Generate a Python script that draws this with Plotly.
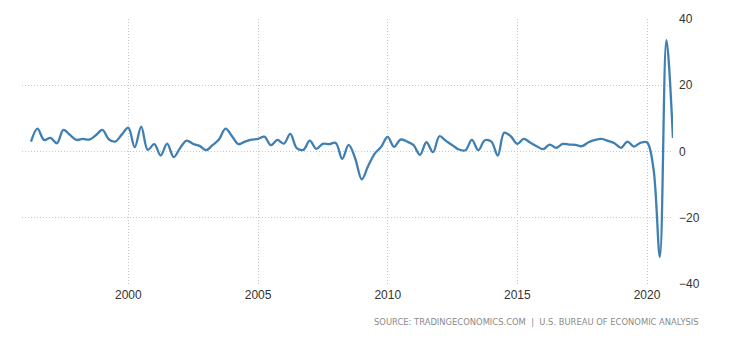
import pandas as pd
import plotly.graph_objects as go

# US real GDP growth, quarter on quarter, seasonally adjusted annualized rate (%)
quarters = pd.period_range("1996Q1", "2020Q4", freq="Q")

growth_1996_2000 = [3.0, 6.9, 3.5, 4.1,
                    2.5, 6.5, 5.0, 3.5,
                    3.8, 3.6, 4.9, 6.5,
                    3.7, 3.0, 5.1, 7.2,
                    1.3, 7.5, 0.5, 2.2]
growth_2001_2005 = [-1.2, 2.4, -1.7, 1.1,
                    3.3, 2.3, 1.7, 0.4,
                    1.9, 3.6, 6.9, 4.6,
                    2.2, 3.0, 3.6, 3.8,
                    4.5, 1.9, 3.5, 2.4]
growth_2006_2010 = [5.3, 1.0, 0.5, 3.3,
                    0.8, 2.3, 2.2, 2.6,
                    -2.2, 2.0, -2.1, -8.4,
                    -4.4, -0.7, 1.4, 4.4,
                    1.4, 3.6, 3.0, 1.9]
growth_2011_2015 = [-1.0, 2.8, -0.2, 4.6,
                    3.2, 1.9, 0.6, 0.4,
                    3.5, 0.4, 3.4, 3.0,
                    -1.2, 5.7, 4.6, 2.3,
                    3.8, 2.7, 1.6, 0.7]
growth_2016_2020 = [2.1, 1.1, 2.3, 2.1,
                    2.0, 1.6, 2.8, 3.5,
                    3.8, 3.2, 2.5, 1.1,
                    3.0, 1.5, 2.6, 2.8,
                    -5.0, -31.8, 33.6, 4.1]

growth = (growth_1996_2000 + growth_2001_2005 + growth_2006_2010
          + growth_2011_2015 + growth_2016_2020)
dates = quarters.end_time.normalize()

year_ticks = ["2000-01-01", "2005-01-01", "2010-01-01", "2015-01-01", "2020-01-01"]
year_labels = ["2000", "2005", "2010", "2015", "2020"]
y_ticks = [-40, -20, 0, 20, 40]

source_text = "SOURCE: TRADINGECONOMICS.COM  |  U.S. BUREAU OF ECONOMIC ANALYSIS"

fig = go.Figure(
    go.Scatter(
        x=dates,
        y=growth,
        mode="lines",
        line=dict(color="#3f7fb2", width=2.3, shape="spline", smoothing=1.0),
        hoverinfo="x+y",
    )
)

grid = dict(showgrid=True, gridcolor="#c8c8c8", gridwidth=1, griddash="1px,2px",
            zeroline=False, showline=False, ticks="",
            tickfont=dict(family="Liberation Sans, Arial, sans-serif", size=12, color="#333333"))

fig.update_layout(
    width=730,
    height=340,
    margin=dict(l=22, r=57, t=19, b=56),
    paper_bgcolor="white",
    plot_bgcolor="white",
    showlegend=False,
    xaxis=dict(range=["1995-11-25", "2021-01-01"], tickvals=year_ticks,
               ticktext=year_labels, ticklabelstandoff=2, **grid),
    yaxis=dict(range=[-40, 40], tickvals=y_ticks, side="right",
               ticklabelstandoff=5, **grid),
    annotations=[
        dict(text=source_text, xref="paper", yref="paper", x=1.043, y=-0.145,
             xanchor="right", yanchor="middle", showarrow=False,
             font=dict(family="DejaVu Sans, sans-serif", size=8.4, color="#8a8a8a"))
    ],
)

fig.write_html("out.html")
